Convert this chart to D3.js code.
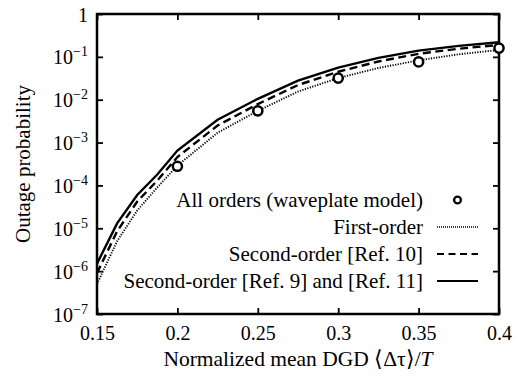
<!DOCTYPE html>
<html>
<head>
<meta charset="utf-8">
<script src="https://cdn.jsdelivr.net/npm/d3@7"></script>
<style>
  html, body { margin: 0; padding: 0; background: #fff; }
  svg { display: block; }
  text { font-family: "Liberation Serif", "Times New Roman", serif; fill: #000; }
</style>
</head>
<body>
<svg id="chart" width="518" height="380"></svg>
<script>
// Outage probability vs. normalized mean DGD
const dgd = [0.15, 0.1625, 0.175, 0.1875, 0.2, 0.225, 0.25, 0.275, 0.3, 0.325, 0.35, 0.375, 0.4];
const firstOrder   = [5e-7, 5e-6, 2.6e-5, 9e-5, 2.9e-4, 1.7e-3, 5.5e-3, 1.55e-2, 3.2e-2, 5.5e-2, 8.3e-2, 0.115, 0.145];
const secondRef10  = [9e-7, 8.5e-6, 4.2e-5, 1.3e-4, 4.6e-4, 2.5e-3, 7.9e-3, 2.2e-2, 4.5e-2, 7.8e-2, 0.118, 0.155, 0.19];
const secondRef911 = [1.5e-6, 1.3e-5, 6e-5, 1.8e-4, 6.5e-4, 3.4e-3, 1.05e-2, 2.8e-2, 5.6e-2, 9.5e-2, 0.14, 0.18, 0.22];

const waveplateX = [0.2, 0.25, 0.3, 0.35, 0.4];
const waveplateY = [2.8e-4, 5.5e-3, 3.2e-2, 7.6e-2, 0.16];

const xTicks = [0.15, 0.2, 0.25, 0.3, 0.35, 0.4];
const xTickLabels = ["0.15", "0.2", "0.25", "0.3", "0.35", "0.4"];
const yTicks = [1, 1e-1, 1e-2, 1e-3, 1e-4, 1e-5, 1e-6, 1e-7];
const yTickExps = [null, "−1", "−2", "−3", "−4", "−5", "−6", "−7"];

const legendLabels = [
  "All orders (waveplate model)",
  "First-order",
  "Second-order [Ref. 10]",
  "Second-order [Ref. 9] and [Ref. 11]"
];

const svg = d3.select("#chart");
const L = 97, R = 499, T = 14, B = 314;

const x = d3.scaleLinear().domain([0.15, 0.4]).range([L, R]);
const y = d3.scaleLog().domain([1e-7, 1]).range([B, T]);

const tickFs = 20, fs = 21;

// axes with inward ticks on all four sides
const ax = svg.append("g").attr("class", "axes");
ax.append("g").attr("transform", `translate(0,${B})`)
  .call(d3.axisBottom(x).tickValues(xTicks).tickSize(-6).tickPadding(12)
        .tickFormat((d, i) => xTickLabels[i]));
ax.append("g").attr("transform", `translate(0,${T})`)
  .call(d3.axisTop(x).tickValues(xTicks).tickSize(-6).tickFormat(""));
const yl = ax.append("g").attr("transform", `translate(${L},0)`)
  .call(d3.axisLeft(y).tickValues(yTicks).tickSize(-6).tickPadding(10).tickFormat(""));
ax.append("g").attr("transform", `translate(${R},0)`)
  .call(d3.axisRight(y).tickValues(yTicks).tickSize(-6).tickFormat(""));

ax.selectAll("path.domain").remove();
ax.selectAll(".tick line").attr("stroke", "#000").attr("stroke-width", 1.8);
ax.selectAll(".tick text").attr("font-size", tickFs).attr("font-family", "Liberation Serif").attr("fill", "#000");

// y tick labels as powers of ten
yl.selectAll(".tick").each(function(d, i) {
  const t = d3.select(this).append("text")
    .attr("x", -9).attr("y", 7)
    .attr("text-anchor", "end")
    .attr("font-size", tickFs);
  if (yTickExps[i] === null) {
    t.text("1");
  } else {
    t.append("tspan").text("10");
    t.append("tspan").attr("dy", -8).attr("font-size", 14).text(yTickExps[i]);
  }
});

// frame
svg.append("rect")
  .attr("x", L).attr("y", T).attr("width", R - L).attr("height", B - T)
  .attr("fill", "none").attr("stroke", "#000").attr("stroke-width", 2.5);

// curves
const line = (ys) => d3.line().x((d, i) => x(dgd[i])).y((d) => y(d))(ys);
const plot = svg.append("g");
plot.append("path").attr("d", line(firstOrder))
  .attr("fill", "none").attr("stroke", "#000").attr("stroke-width", 1.9).attr("stroke-dasharray", "1.2,1.4");
plot.append("path").attr("d", line(secondRef10))
  .attr("fill", "none").attr("stroke", "#000").attr("stroke-width", 2.4).attr("stroke-dasharray", "8,4.5");
plot.append("path").attr("d", line(secondRef911))
  .attr("fill", "none").attr("stroke", "#000").attr("stroke-width", 2.4);

plot.selectAll("circle.wp").data(waveplateX).join("circle")
  .attr("class", "wp")
  .attr("cx", (d) => x(d)).attr("cy", (d, i) => y(waveplateY[i]))
  .attr("r", 4.6).attr("fill", "#fff").attr("stroke", "#000").attr("stroke-width", 2.5);

// legend
const lg = svg.append("g");
const rowY = [200, 227, 254, 281];
const textRight = 423, sx0 = 437, sx1 = 478;
legendLabels.forEach((lab, i) => {
  lg.append("text").attr("x", textRight).attr("y", rowY[i] + 7)
    .attr("text-anchor", "end").attr("font-size", fs).text(lab);
});
lg.append("circle").attr("cx", (sx0 + sx1) / 2).attr("cy", rowY[0])
  .attr("r", 3.4).attr("fill", "#fff").attr("stroke", "#000").attr("stroke-width", 2.3);
lg.append("line").attr("x1", sx0).attr("x2", sx1).attr("y1", rowY[1]).attr("y2", rowY[1])
  .attr("stroke", "#000").attr("stroke-width", 1.5).attr("stroke-dasharray", "1,1");
lg.append("line").attr("x1", sx0).attr("x2", sx1).attr("y1", rowY[2]).attr("y2", rowY[2])
  .attr("stroke", "#000").attr("stroke-width", 2.2).attr("stroke-dasharray", "7,4.5");
lg.append("line").attr("x1", sx0).attr("x2", sx1).attr("y1", rowY[3]).attr("y2", rowY[3])
  .attr("stroke", "#000").attr("stroke-width", 2.2);

// axis titles
svg.append("text")
  .attr("transform", `translate(30,${(T + B) / 2}) rotate(-90)`)
  .attr("text-anchor", "middle").attr("font-size", fs)
  .text("Outage probability");

const xt = svg.append("text")
  .attr("x", (L + R) / 2).attr("y", 366)
  .attr("text-anchor", "middle").attr("font-size", fs + 0.5);
xt.append("tspan").text("Normalized mean DGD ⟨Δτ⟩/");
xt.append("tspan").attr("font-style", "italic").text("T");
</script>
</body>
</html>
